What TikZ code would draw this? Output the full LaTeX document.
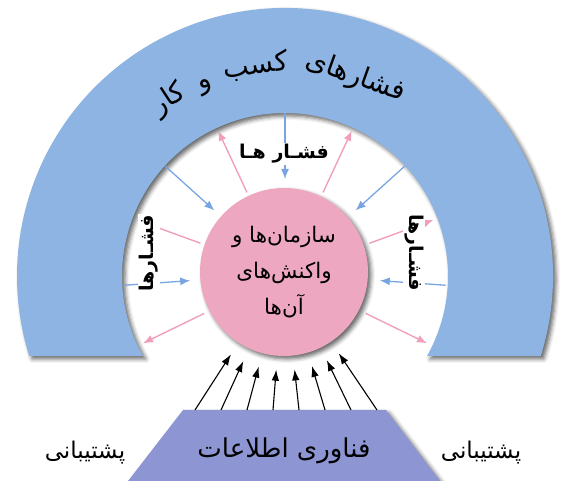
\documentclass[tikz,border=0pt]{standalone}
\usepackage{fontspec}
\newfontfamily\arfont[Script=Arabic]{DejaVu Sans}
\TeXXeTstate=1
\usetikzlibrary{arrows.meta,calc,shadows.blur}
\definecolor{ringblue}{HTML}{8EB4E3}
\definecolor{itblue}{HTML}{8D96D3}
\definecolor{circpink}{HTML}{EEA7C0}
\definecolor{arrpink}{HTML}{F0A0B9}
\definecolor{arrblue}{HTML}{78A5E1}
\newcommand\ringfont{\arfont\fontsize{27.5}{32}\selectfont}
\newlength\lenA \newlength\lenB \newlength\lenC \newlength\lenD
\begin{document}
\settowidth\lenA{\ringfont\beginR فشارهای\endR}%
\settowidth\lenB{\ringfont\beginR کسب\endR}%
\settowidth\lenC{\ringfont\beginR و\endR}%
\settowidth\lenD{\ringfont\beginR کار\endR}%
\def\rr{204}%
\pgfmathsetmacro\dA{\lenA/\rr*57.29578}%
\pgfmathsetmacro\dB{\lenB/\rr*57.29578}%
\pgfmathsetmacro\dC{\lenC/\rr*57.29578}%
\pgfmathsetmacro\dD{\lenD/\rr*57.29578}%
\pgfmathsetmacro\spc{0.5*27.5/\rr*57.29578}%
\pgfmathsetmacro\tot{\dA+\dB+\dC+\dD+3*\spc}%
\pgfmathsetmacro\aA{92-\tot/2+\dA/2}%
\pgfmathsetmacro\aB{\aA+\dA/2+\spc+\dB/2}%
\pgfmathsetmacro\aC{\aB+\dB/2+\spc+\dC/2}%
\pgfmathsetmacro\aD{\aC+\dC/2+\spc+\dD/2}%
\begin{tikzpicture}[x=1pt,y=1pt,
  ar/.style={inner sep=0pt, text=black},
  lbl/.style={inner sep=1pt, fill=white, text=black, font=\arfont\bfseries\fontsize{19}{22}\selectfont},
  bluearr/.style={draw=arrblue, line width=1.3pt, -{Latex[length=10pt,width=8pt]}},
  pinkarr/.style={draw=arrpink, line width=1.4pt, -{Latex[length=10pt,width=8pt]}},
  blackarr/.style={draw=black, line width=1.1pt, -{Latex[length=11pt,width=7.5pt]}},
  dropshade/.style={blur shadow={shadow xshift=3pt, shadow yshift=-3pt, shadow blur radius=4pt, shadow opacity=60}}]
\useasboundingbox (0,0) rectangle (566,481);
\coordinate (rc) at (285,205);
\coordinate (ac) at (285,207);

% business ring
\path[fill=ringblue, dropshade] ($(rc)+(-17.37:268)$) arc[start angle=-17.37, end angle=197.37, radius=268pt]
  -- ($(rc)+(209.39:163)$) arc[start angle=209.39, end angle=-29.39, radius=163pt] -- cycle;

% ring text along the arc
\node[ar, font=\ringfont, rotate=\aA-90, anchor=base] (rw1) at ($(rc)+(\aA:\rr)$) {\beginR فشارهای\endR};
\node[ar, font=\ringfont, rotate=\aB-90, anchor=base] (rw2) at ($(rc)+(\aB:\rr)$) {\beginR کسب\endR};
\node[ar, font=\ringfont, rotate=\aC-90, anchor=base] (rw3) at ($(rc)+(\aC:\rr)$) {\beginR و\endR};
\node[ar, font=\ringfont, rotate=\aD-90, anchor=base] (rw4) at ($(rc)+(\aD:\rr)$) {\beginR کار\endR};

% pressure arrows
\foreach \a [count=\i] in {90,42,138,184,-4} {
  \coordinate (bt\i) at ($(ac)+(\a:161)$);
  \coordinate (bh\i) at ($(ac)+(\a:95)$);
  \draw[bluearr] (bt\i) -- (bh\i);
}
\foreach \a [count=\i] in {65,115,20,160,-26,206} {
  \coordinate (pt\i) at ($(ac)+(\a:90)$);
  \coordinate (ph\i) at ($(ac)+(\a:158)$);
  \draw[pinkarr] (pt\i) -- (ph\i);
}

% organisation circle
\node[circle, fill=circpink, minimum size=168pt, inner sep=0pt, dropshade,
      font=\arfont\fontsize{21.5}{36}\selectfont, align=center] (org) at (284,209)
  {\beginR سازمان‌ها و\endR\\ \beginR واکنش‌های\endR\\ \beginR آن‌ها\endR};

% pressure labels
\node[lbl] (lt) at (284,327) {\beginR فشـار هـا\endR};
\node[lbl, rotate=90] (ll) at (149,228) {\beginR فشـارها\endR};
\node[lbl, rotate=-90] (lr) at (414,228) {\beginR فشـارها\endR};

% IT trapezoid
\path[fill=itblue, dropshade] (183,71) -- (386,71) -- (440,0) -- (128,0) -- cycle;
\node[ar, font=\arfont\fontsize{26}{30}\selectfont] (it) at (284,30) {\beginR فناوری اطلاعات\endR};
\node[ar, font=\arfont\fontsize{23}{26}\selectfont] (supl) at (85,28) {\beginR پشتیبانی\endR};
\node[ar, font=\arfont\fontsize{23}{26}\selectfont] (supr) at (481,28) {\beginR پشتیبانی\endR};

% support arrows
\foreach \x [count=\i] in {195,221,...,377} {
  \coordinate (it\i) at (\x,71);
  \draw[blackarr] (it\i) -- ($(org.center)!98pt!(it\i)$);
}
\end{tikzpicture}
\end{document}
